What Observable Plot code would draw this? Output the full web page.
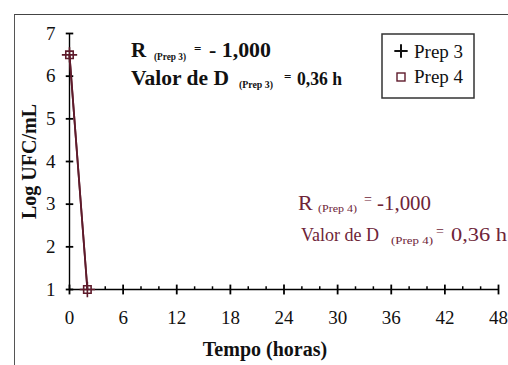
<!DOCTYPE html>
<html>
<head>
<meta charset="utf-8">
<script src="https://cdn.jsdelivr.net/npm/d3@7"></script>
<script src="https://cdn.jsdelivr.net/npm/@observablehq/plot@0.6"></script>
<style>
  html, body { margin: 0; padding: 0; background: #fff; }
  #wrap { position: relative; width: 508px; height: 365px; overflow: hidden; }
  #frame { position: absolute; left: 14px; top: 14px; right: -2px; bottom: -2px;
           border-top: 1.5px solid #444; border-left: 1.5px solid #555; pointer-events: none; }
  #wrap svg { position: absolute; left: 0; top: 0; }
  #wrap svg text, #wrap svg tspan { font-family: "Liberation Serif", "Times New Roman", serif !important; }
</style>
</head>
<body>
<div id="wrap"><div id="frame"></div></div>
<script>
// Survival curves: log count versus time for two preparations
const hours = [0, 2];
const prep3 = [6.5, 1];
const prep4 = [6.5, 1];
const xTicks = [0, 6, 12, 18, 24, 30, 36, 42, 48];
const xMinor = [2, 4, 8, 10, 14, 16, 20, 22, 26, 28, 32, 34, 38, 40, 44, 46];
const yTicks = [1, 2, 3, 4, 5, 6, 7];
const seriesNames = ["Prep 3", "Prep 4"];

const dataColor = "#5e1b2b";
const axisColor = "black";

const rows3 = hours.map((h, i) => ({hora: h, log: prep3[i], serie: seriesNames[0]}));
const rows4 = hours.map((h, i) => ({hora: h, log: prep4[i], serie: seriesNames[1]}));

const yTickRows = yTicks.map(v => ({v}));
const xTickRows = xTicks.map(v => ({v}));
const xMinorRows = xMinor.map(v => ({v}));

const chart = Plot.plot({
  width: 508,
  height: 365,
  marginLeft: 69,
  marginRight: 10,
  marginTop: 33,
  marginBottom: 76,
  style: {fontFamily: "'Liberation Serif', 'Times New Roman', serif", fontSize: "19px", color: "#111", background: "transparent"},
  x: {domain: [0, 48]},
  y: {domain: [1, 7]},
  marks: [
    Plot.ruleX([0], {y1: 1, y2: 7, stroke: axisColor, strokeWidth: 1.4}),
    Plot.ruleY([1], {x1: 0, x2: 48, stroke: axisColor, strokeWidth: 1.4}),
    // tick marks crossing the axis lines (half-length in axis units)
    Plot.link(yTickRows, {x1: -0.42, x2: 0.42, y1: "v", y2: "v", stroke: axisColor, strokeWidth: 1.8}),
    Plot.link(xTickRows, {x1: "v", x2: "v", y1: 0.885, y2: 1.115, stroke: axisColor, strokeWidth: 1.8}),
    Plot.link(xMinorRows, {x1: "v", x2: "v", y1: 1, y2: 1.075, stroke: axisColor, strokeWidth: 1.5}),
    Plot.axisY(yTicks, {tickSize: 0, tickPadding: 14, label: null, fontSize: 19}),
    Plot.axisX(xTicks, {tickSize: 0, tickPadding: 21, label: null, fontSize: 19}),
    Plot.text(["Log UFC/mL"], {frameAnchor: "left", textAnchor: "middle", rotate: -90, dx: -40, fontWeight: "bold", fontSize: 20}),
    Plot.text(["Tempo (horas)"], {frameAnchor: "bottom", textAnchor: "middle", dx: -19, dy: 66, fontWeight: "bold", fontSize: 20}),
    Plot.line(rows3, {x: "hora", y: "log", stroke: dataColor, strokeWidth: 1.8}),
    Plot.line(rows4, {x: "hora", y: "log", stroke: dataColor, strokeWidth: 1.8}),
    Plot.dot(rows3, {x: "hora", y: "log", symbol: "plus", r: 5, stroke: dataColor, strokeWidth: 1.6}),
    Plot.dot(rows4, {x: "hora", y: "log", symbol: "square", r: 4.2, fill: "none", stroke: dataColor, strokeWidth: 1.6})
  ]
});

document.getElementById("wrap").appendChild(chart);

const svg = d3.select(chart);

// one annotation line, built from segments (main text, subscript, sign, value)
function segments(items, fill, weight) {
  const g = svg.append("g").attr("fill", fill).attr("font-weight", weight).attr("text-anchor", "start");
  for (const s of items) {
    const t = g.append("text").attr("x", s.x).attr("y", s.y).attr("font-size", s.size).text(s.t);
    if (s.len) t.attr("textLength", s.len).attr("lengthAdjust", "spacingAndGlyphs");
  }
}

segments([
  {t: "R", x: 131, y: 57, size: 21},
  {t: "(Prep 3)", x: 154, y: 60, size: 9.5, len: 32},
  {t: "=", x: 194, y: 53, size: 13},
  {t: "- 1,000", x: 209, y: 57, size: 20, len: 62},
  {t: "Valor de D", x: 131, y: 85, size: 20, len: 98},
  {t: "(Prep 3)", x: 239, y: 88, size: 9.5, len: 34},
  {t: "=", x: 284, y: 81, size: 13},
  {t: "0,36 h", x: 297, y: 85, size: 18, len: 45}
], "#111", "bold");

segments([
  {t: "R", x: 298, y: 210, size: 22},
  {t: "(Prep 4)", x: 318, y: 212, size: 11, len: 39},
  {t: "=", x: 364, y: 204, size: 14},
  {t: "-1,000", x: 377, y: 210, size: 20, len: 54},
  {t: "Valor de D", x: 301, y: 241, size: 18, len: 78},
  {t: "(Prep 4)", x: 391, y: 244, size: 11, len: 42},
  {t: "=", x: 436, y: 236, size: 14},
  {t: "0,36 h", x: 451, y: 241, size: 19, len: 56}
], "#6e2438", "normal");

// legend
const lg = svg.append("g").attr("text-anchor", "start");
lg.append("rect").attr("x", 382).attr("y", 34).attr("width", 92).attr("height", 64)
  .attr("fill", "#fff").attr("stroke", "#333").attr("stroke-width", 1.5);
lg.append("path").attr("d", d3.symbol(d3.symbolPlus, 60)())
  .attr("transform", "translate(401,51)").attr("fill", "none").attr("stroke", "#111").attr("stroke-width", 2);
lg.append("rect").attr("x", 397).attr("y", 73).attr("width", 8).attr("height", 8)
  .attr("fill", "none").attr("stroke", dataColor).attr("stroke-width", 1.4);
lg.append("text").attr("x", 414).attr("y", 58).attr("font-size", 19).attr("fill", "#111").text(seriesNames[0]);
lg.append("text").attr("x", 414).attr("y", 83).attr("font-size", 19).attr("fill", "#111").text(seriesNames[1]);
</script>
</body>
</html>
